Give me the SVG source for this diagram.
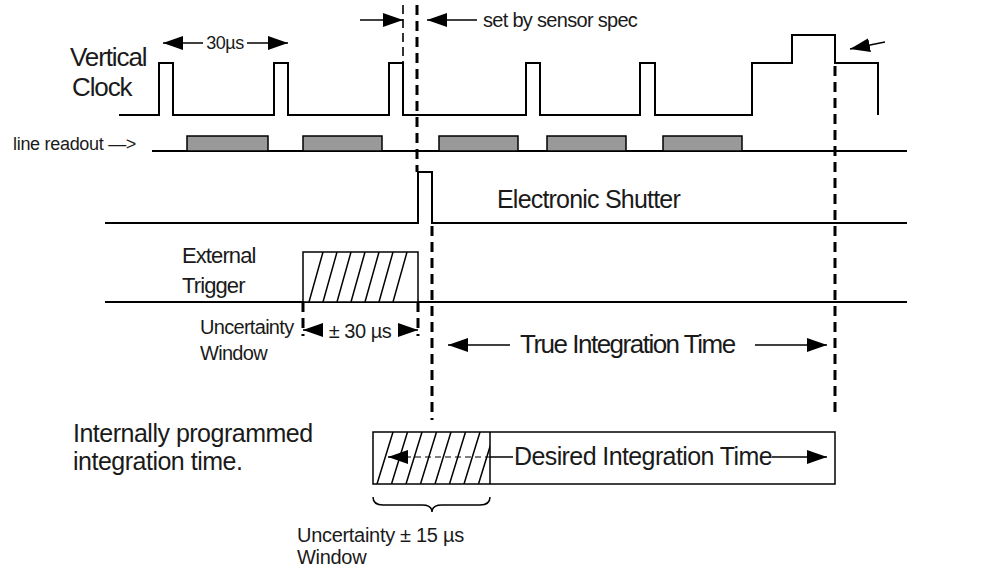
<svg xmlns="http://www.w3.org/2000/svg" width="995" height="569" viewBox="0 0 995 569">
<style>
.w{fill:none;stroke:#000;stroke-width:2}
.t{fill:none;stroke:#000;stroke-width:1.5}
.dk{fill:none;stroke:#000;stroke-width:3;stroke-dasharray:10 6}
.dn{fill:none;stroke:#000;stroke-width:1.6;stroke-dasharray:9 5}
.dh{fill:none;stroke:#000;stroke-width:1;stroke-dasharray:6 4}
.bx{fill:#999;stroke:#000;stroke-width:1.5}
.wb{fill:#fff;stroke:#000;stroke-width:1.5}
text{font-family:"Liberation Sans",Arial,Helvetica,sans-serif;fill:#1a1a1a}
.big{font-size:26px;letter-spacing:-1.1px}
.mid{font-size:22px;letter-spacing:-0.9px}
.sm{font-size:18px;letter-spacing:-0.5px}
</style>
<defs>
<marker id="ah" viewBox="0 0 20 14" refX="20" refY="7" markerWidth="20" markerHeight="14" markerUnits="userSpaceOnUse" orient="auto-start-reverse">
<path d="M0 0L20 7L0 14Z" fill="#000"/>
</marker>
<clipPath id="c1"><rect x="303" y="252" width="115" height="50"/></clipPath>
<clipPath id="c2"><rect x="373" y="432" width="117" height="52"/></clipPath>
</defs>

<g id="vertical-clock">
<text class="big" x="70" y="66">Vertical</text>
<text class="big" x="72" y="96">Clock</text>
<path class="w" d="M119 115H159V63H173V115H274V63H288V115H389V63H403V115H526V63H540V115H640V63H655V115H752V63H792V35H835V63H878V115"/>
</g>

<g id="period-label">
<text class="sm" x="225" y="49" text-anchor="middle">30µs</text>
</g>

<g id="sensor-spec">
<text x="483" y="27" style="font-size:20px;letter-spacing:-0.7px">set by sensor spec</text>
</g>

<g id="line-readout">
<text x="13" y="150" style="font-size:18px;letter-spacing:-0.3px">line readout —&gt;</text>
<line class="w" x1="152" y1="151" x2="907" y2="151"/>
<rect class="bx" x="187" y="136" width="81" height="15"/>
<rect class="bx" x="303" y="136" width="79" height="15"/>
<rect class="bx" x="439" y="136" width="79" height="15"/>
<rect class="bx" x="547" y="136" width="79" height="15"/>
<rect class="bx" x="663" y="136" width="79" height="15"/>
</g>

<g id="electronic-shutter">
<path class="w" d="M105 223H418V172H432V223H907"/>
<text x="497" y="208" style="font-size:25px;letter-spacing:-0.8px">Electronic Shutter</text>
</g>

<g id="external-trigger">
<text class="mid" x="182" y="263">External</text>
<text class="mid" x="182" y="293">Trigger</text>
<line class="w" x1="105" y1="302" x2="907" y2="302"/>
<rect class="wb" x="303" y="252" width="115" height="50"/>
<g clip-path="url(#c1)" class="t">
<path d="M309 302L323 252M323 302L337 252M337 302L351 252M351 302L365 252M365 302L379 252M379 302L393 252M393 302L407 252"/>
</g>
</g>

<g id="trigger-uncertainty">
<text x="200" y="334" style="font-size:20px;letter-spacing:-0.7px">Uncertainty</text>
<text x="200" y="360" style="font-size:20px;letter-spacing:-0.7px">Window</text>
<text x="360" y="338" text-anchor="middle" style="font-size:20px;letter-spacing:-0.5px">± 30 µs</text>
</g>

<g id="true-integration">
<text class="big" x="520" y="353" style="letter-spacing:-1.5px">True Integration Time</text>
</g>

<g id="internal-label">
<text x="73" y="442" style="font-size:25px;letter-spacing:-0.5px">Internally programmed</text>
<text x="73" y="470" style="font-size:25px;letter-spacing:-0.5px">integration time.</text>
</g>

<g id="desired-integration">
<rect class="wb" x="373" y="432" width="462" height="52"/>
<line class="t" x1="490" y1="432" x2="490" y2="484"/>
<g clip-path="url(#c2)" class="t">
<path d="M377 484L393 432M391.5 484L407.5 432M406 484L422 432M420.5 484L436.5 432M435 484L451 432M449.5 484L465.5 432M464 484L480 432M478.5 484L494.5 432"/>
</g>
<line class="dh" x1="405" y1="457" x2="490" y2="457"/>
<text x="514" y="465" style="font-size:25px;letter-spacing:-0.6px">Desired Integration Time</text>
</g>

<g id="desired-uncertainty">
<path class="t" d="M373 497Q373 505 383 505H422Q432 505 432 512Q432 505 442 505H480Q490 505 490 497"/>
<text x="297" y="542" style="font-size:20px;letter-spacing:-0.3px">Uncertainty ± 15 µs</text>
<text x="297" y="564" style="font-size:20px;letter-spacing:-0.3px">Window</text>
</g>

<g id="connectors">
<line class="t" x1="203" y1="43" x2="163" y2="43" marker-end="url(#ah)"/>
<line class="t" x1="247" y1="43" x2="288" y2="43" marker-end="url(#ah)"/>
<line class="t" x1="360" y1="20" x2="403" y2="20" marker-end="url(#ah)"/>
<line class="t" x1="477" y1="20" x2="427" y2="20" marker-end="url(#ah)"/>
<line class="dn" x1="403" y1="5" x2="403" y2="63"/>
<line class="dk" x1="417" y1="5" x2="417" y2="172"/>
<line class="dk" x1="432" y1="226" x2="432" y2="420"/>
<line class="dk" x1="835" y1="66" x2="835" y2="418"/>
<line class="t" x1="885" y1="42" x2="850" y2="49" marker-end="url(#ah)"/>
<line class="dk" x1="303" y1="302" x2="303" y2="336"/>
<line class="dk" x1="418" y1="302" x2="418" y2="336"/>
<line class="t" x1="322" y1="330" x2="303" y2="330" marker-end="url(#ah)"/>
<line class="t" x1="398" y1="330" x2="418" y2="330" marker-end="url(#ah)"/>
<line class="t" x1="510" y1="345" x2="448" y2="345" marker-end="url(#ah)"/>
<line class="t" x1="755" y1="345" x2="827" y2="345" marker-end="url(#ah)"/>
<line class="t" x1="405" y1="457" x2="388" y2="457" marker-end="url(#ah)"/>
<line class="t" x1="490" y1="457" x2="513" y2="457"/>
<line class="t" x1="772" y1="457" x2="827" y2="457" marker-end="url(#ah)"/>
</g>
</svg>
